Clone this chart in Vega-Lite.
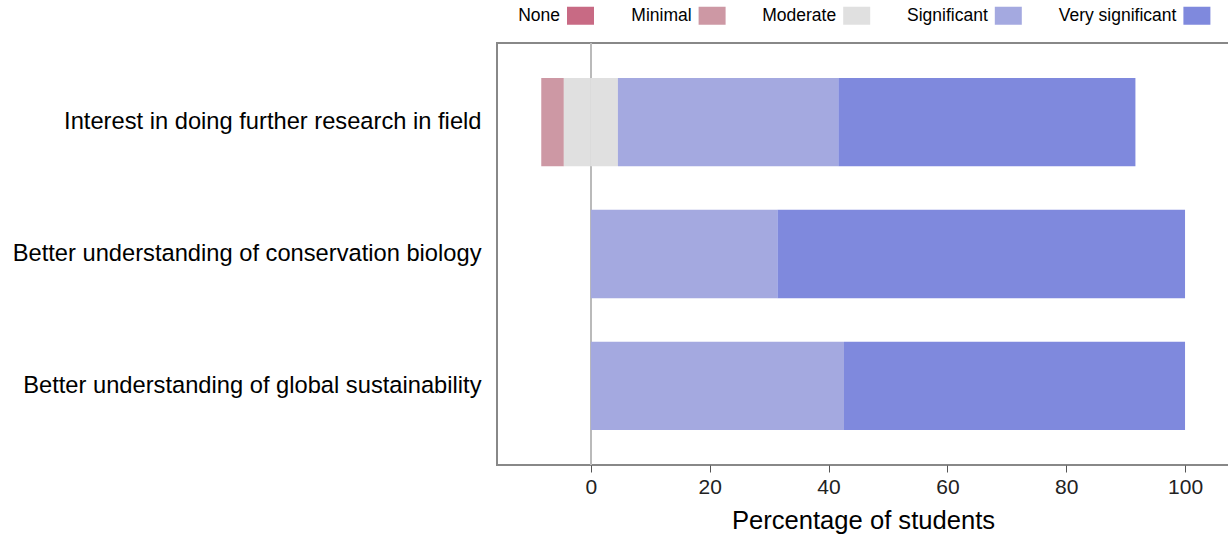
{
  "$schema": "https://vega.github.io/schema/vega-lite/v6.json",
  "width": 732,
  "height": 422,
  "autosize": {"type": "none"},
  "padding": {"left": 497, "top": 43, "right": -1, "bottom": 75},
  "background": "white",
  "config": {
    "font": "Liberation Sans",
    "view": {"stroke": "#888888", "strokeWidth": 2},
    "axis": {"grid": false}
  },
  "data": {
    "values": [
      {"question": "Interest in doing further research in field", "response": "None", "lvl": 1, "pct": 0},
      {"question": "Interest in doing further research in field", "response": "Minimal", "lvl": 2, "pct": -3.8},
      {"question": "Interest in doing further research in field", "response": "Moderate", "lvl": 3, "pct": -4.55},
      {"question": "Interest in doing further research in field", "response": "Moderate", "lvl": 3, "pct": 4.55},
      {"question": "Interest in doing further research in field", "response": "Significant", "lvl": 4, "pct": 37.1},
      {"question": "Interest in doing further research in field", "response": "Very significant", "lvl": 5, "pct": 50.0},
      {"question": "Better understanding of conservation biology", "response": "Significant", "lvl": 4, "pct": 31.4},
      {"question": "Better understanding of conservation biology", "response": "Very significant", "lvl": 5, "pct": 68.6},
      {"question": "Better understanding of global sustainability", "response": "Significant", "lvl": 4, "pct": 42.6},
      {"question": "Better understanding of global sustainability", "response": "Very significant", "lvl": 5, "pct": 57.4}
    ]
  },
  "layer": [
    {
      "mark": {"type": "rule", "color": "#bbbbbb", "strokeWidth": 1},
      "encoding": {
        "x": {"datum": 0, "type": "quantitative"}
      }
    },
    {
      "transform": [{"filter": "datum.pct < 0"}],
      "mark": {"type": "bar"},
      "encoding": {
        "y": {"field": "question", "type": "nominal", "sort": null},
        "x": {"field": "pct", "type": "quantitative", "stack": "zero"},
        "color": {"field": "response", "type": "nominal"},
        "order": {"field": "lvl", "sort": "descending"}
      }
    },
    {
      "transform": [{"filter": "datum.pct >= 0"}],
      "mark": {"type": "bar"},
      "encoding": {
        "y": {"field": "question", "type": "nominal", "sort": null,
              "scale": {"paddingInner": 0.33, "paddingOuter": 0.265},
              "axis": {"title": null, "ticks": false, "domain": false, "labelPadding": 16,
                       "labelFontSize": 23.7, "labelColor": "#000000", "labelLimit": 600}},
        "x": {"field": "pct", "type": "quantitative", "stack": "zero",
              "scale": {"domain": [-15.8, 107.4], "nice": false, "zero": false},
              "axis": {"title": "Percentage of students", "values": [0, 20, 40, 60, 80, 100],
                       "domain": false, "tickColor": "#555555", "tickSize": 7, "labelPadding": 4,
                       "labelFontSize": 21, "labelColor": "#222222", "titleFontSize": 25.6,
                       "titleFontWeight": "normal", "titleColor": "#000000", "titlePadding": 11}},
        "color": {"field": "response", "type": "nominal",
                  "scale": {"domain": ["None", "Minimal", "Moderate", "Significant", "Very significant"],
                            "range": ["#c86a84", "#cd98a4", "#e0e0e0", "#a4a9e0", "#7f89dd"]},
                  "legend": {"orient": "none", "legendX": 70, "legendY": -41, "direction": "horizontal",
                             "title": null, "symbolType": "M-1,-0.667H1V0.667H-1Z", "symbolSize": 729,
                             "symbolStrokeWidth": 0, "symbolOpacity": 1, "labelAlign": "right", "labelOffset": -34,
                             "columnPadding": 36.6, "labelFontSize": 17.5, "labelColor": "#000000"}},
        "order": {"field": "lvl", "sort": "ascending"}
      }
    }
  ]
}
